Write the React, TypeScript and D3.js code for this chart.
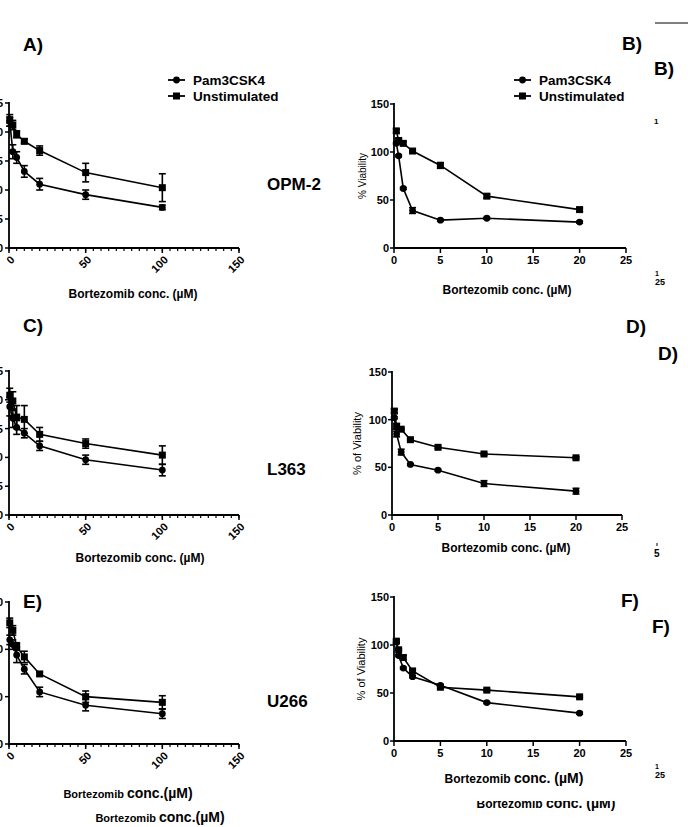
import React from "react";
import * as d3 from "d3";

// ---------- data ----------
const leftConc = [0.5, 2.5, 5, 10, 20, 50, 100];
const rightConc = [0.25, 0.5, 1, 2, 5, 10, 20];
const seriesNames = ["Pam3CSK4", "Unstimulated"];

const aPam = [109, 83, 78, 66, 55, 46, 35];
const aPamErr = [4, 6, 5, 5, 5, 4, 2];
const aUns = [110, 106, 98, 92, 84, 65, 52];
const aUnsErr = [5, 4, 3, 2, 4, 8, 12];

const bPam = [109, 96, 62, 39, 29, 31, 27];
const bPamErr = [1, 1, 1, 3, 1, 1, 1];
const bUns = [122, 112, 109, 101, 86, 54, 40];
const bUnsErr = [2, 2, 2, 1, 3, 2, 2];

const cPam = [94, 84, 76, 71, 60, 48, 39];
const cPamErr = [8, 8, 6, 4, 4, 4, 5];
const cUns = [104, 99, 85, 83, 70, 62, 52];
const cUnsErr = [6, 8, 10, 12, 6, 4, 8];

const dPam = [102, 85, 66, 53, 47, 33, 25];
const dPamErr = [1, 3, 3, 1, 1, 3, 3];
const dUns = [109, 93, 90, 79, 71, 64, 60];
const dUnsErr = [2, 3, 1, 1, 1, 1, 1];

const ePam = [110, 105, 94, 79, 55, 41, 32];
const ePamErr = [5, 5, 8, 5, 5, 6, 5];
const eUns = [128, 120, 103, 92, 74, 50, 44];
const eUnsErr = [5, 5, 4, 6, 2, 6, 7];

const fPam = [103, 89, 76, 67, 58, 40, 29];
const fPamErr = [1, 1, 1, 1, 1, 1, 1];
const fUns = [104, 95, 87, 73, 56, 53, 46];
const fUnsErr = [2, 1, 2, 2, 1, 1, 1];

const leftXTicks = [0, 50, 100, 150];
const rightXTicks = [0, 5, 10, 15, 20, 25];
const yTicks125 = [0, 25, 50, 75, 100, 125];
const yTicks150 = [0, 50, 100, 150];

const FONT = "'Liberation Sans', Arial, Helvetica, sans-serif";

type Series = { vals: number[]; err: number[]; shape: "circle" | "square" };

function Marker({ x, y, shape }: { x: number; y: number; shape: string }) {
  if (shape === "circle") return <circle cx={x} cy={y} r={3.4} fill="#000" />;
  return <rect x={x - 3.5} y={y - 3.5} width={7} height={7} fill="#000" />;
}

function Panel(props: {
  x0: number; x1: number; y0: number; y1: number;
  xMax: number; yMax: number; xs: number[];
  series: Series[]; xTicks: number[]; yTicks: number[];
  side: "left" | "right"; yTitle?: string; yTitleX?: number; yTitleSize?: number;
}) {
  const { x0, x1, y0, y1, xMax, yMax, xs, series, xTicks, yTicks, side } = props;
  const xs_ = d3.scaleLinear().domain([0, xMax]).range([x0, x1]);
  const ys_ = d3.scaleLinear().domain([0, yMax]).range([y0, y1]);
  const line = d3.line<number>().x((_, i) => xs_(xs[i])).y((d) => ys_(d));
  const minor = side === "left" ? d3.range(0, xMax + 0.1, 5) : [];
  return (
    <g>
      <line x1={x0} x2={x0} y1={y1 - 1} y2={y0 + 1} stroke="#000" strokeWidth={1.8} />
      <line x1={x0 - 1} x2={x1} y1={y0} y2={y0} stroke="#000" strokeWidth={1.8} />
      {yTicks.map((t) => (
        <g key={"y" + t}>
          <line x1={x0 - 4} x2={x0} y1={ys_(t)} y2={ys_(t)} stroke="#000" strokeWidth={1.5} />
          <text x={side === "left" ? 3 : x0 - 5} y={ys_(t)} dy="0.36em" textAnchor="end"
            fontFamily={FONT} fontWeight="bold" fontSize={11}>{t}</text>
        </g>
      ))}
      {minor.map((t) => (
        <line key={"m" + t} x1={xs_(t)} x2={xs_(t)} y1={y0} y2={y0 + 3} stroke="#000" strokeWidth={1.2} />
      ))}
      {xTicks.map((t) => (
        <g key={"x" + t}>
          <line x1={xs_(t)} x2={xs_(t)} y1={y0} y2={y0 + 5} stroke="#000" strokeWidth={1.5} />
          {side === "left" ? (
            <text transform={`translate(${xs_(t) + 1},${y0 + 7}) rotate(-45)`} textAnchor="end"
              dy="0.7em" fontFamily={FONT} fontWeight="bold" fontSize={11}>{t}</text>
          ) : (
            <text x={xs_(t)} y={y0 + 16} textAnchor="middle" fontFamily={FONT}
              fontWeight="bold" fontSize={11}>{t}</text>
          )}
        </g>
      ))}
      {props.yTitle && (
        <text transform={`translate(${props.yTitleX},${(y0 + y1) / 2}) rotate(-90)`}
          textAnchor="middle" dy="0.35em" fontFamily={FONT} fontSize={props.yTitleSize || 10}>
          {props.yTitle}
        </text>
      )}
      {series.map((s, si) => (
        <g key={si}>
          <path d={line(s.vals) || ""} fill="none" stroke="#000" strokeWidth={1.6} />
          {s.vals.map((v, i) => {
            const cx = xs_(xs[i]);
            const top = ys_(v + s.err[i]);
            const bot = ys_(v - s.err[i]);
            return (
              <g key={i}>
                <line x1={cx} x2={cx} y1={top} y2={bot} stroke="#000" strokeWidth={1.6} />
                <line x1={cx - 3.5} x2={cx + 3.5} y1={top} y2={top} stroke="#000" strokeWidth={1.6} />
                <line x1={cx - 3.5} x2={cx + 3.5} y1={bot} y2={bot} stroke="#000" strokeWidth={1.6} />
                <Marker x={cx} y={ys_(v)} shape={s.shape} />
              </g>
            );
          })}
        </g>
      ))}
    </g>
  );
}

function Legend({ x, y }: { x: number; y: number }) {
  return (
    <g>
      {seriesNames.map((n, i) => (
        <g key={n}>
          <line x1={x} x2={x + 17} y1={y + i * 16} y2={y + i * 16} stroke="#000" strokeWidth={1.8} />
          <Marker x={x + 8.5} y={y + i * 16} shape={i === 0 ? "circle" : "square"} />
          <text x={x + 25} y={y + i * 16} dy="0.35em" fontFamily={FONT} fontWeight="bold" fontSize={13.5}>{n}</text>
        </g>
      ))}
    </g>
  );
}

function Big({ x, y, size, children }: { x: number; y: number; size: number; children: React.ReactNode }) {
  return <text x={x} y={y} fontFamily={FONT} fontWeight="bold" fontSize={size}>{children}</text>;
}

function XTitle({ cx, y, small, big, sep = " " }: { cx: number; y: number; small: number; big: number; sep?: string }) {
  return (
    <text x={cx} y={y} textAnchor="middle" fontFamily={FONT} fontWeight="bold">
      <tspan fontSize={small}>Bortezomib </tspan>
      <tspan fontSize={big}>{"conc." + sep + "(µM)"}</tspan>
    </text>
  );
}

export default function App() {
  const L = { x0: 9, x1: 239, xMax: 150, xs: leftConc, xTicks: leftXTicks, side: "left" as const };
  const R = { xMax: 25, xs: rightConc, xTicks: rightXTicks, side: "right" as const, yMax: 150, yTicks: yTicks150 };
  return (
    <div style={{ position: "absolute", left: 0, top: 0 }}>
      <svg width={688} height={827} style={{ display: "block", background: "#fff" }}>
        <defs>
          <clipPath id="clipF2"><rect x={400} y={801} width={288} height={26} /></clipPath>
        </defs>
        {/* Panel A */}
        <Panel {...L} y0={248} y1={103} yMax={125} yTicks={yTicks125}
          series={[{ vals: aPam, err: aPamErr, shape: "circle" }, { vals: aUns, err: aUnsErr, shape: "square" }]} />
        <Legend x={168} y={80} />
        <Big x={23} y={51} size={19}>A)</Big>
        <Big x={267} y={190} size={17}>OPM-2</Big>
        <XTitle cx={133} y={298} small={12} big={12} />

        {/* Panel B */}
        <Panel {...R} x0={394} x1={626} y0={248} y1={104} yTitle="% Viability" yTitleX={362} yTitleSize={10}
          series={[{ vals: bPam, err: bPamErr, shape: "circle" }, { vals: bUns, err: bUnsErr, shape: "square" }]} />
        <Legend x={514} y={80} />
        <Big x={622} y={50} size={19}>B)</Big>
        <Big x={654} y={75} size={19}>B)</Big>
        <line x1={655} x2={688} y1={23} y2={23} stroke="#000" strokeWidth={1} />
        <text x={654} y={124} fontFamily={FONT} fontWeight="bold" fontSize={8}>1</text>
        <text x={655} y={276} fontFamily={FONT} fontWeight="bold" fontSize={7}>1</text>
        <text x={655} y={285} fontFamily={FONT} fontWeight="bold" fontSize={9}>25</text>
        <XTitle cx={507} y={294} small={12} big={12} />

        {/* Panel C */}
        <Panel {...L} y0={515} y1={371} yMax={125} yTicks={yTicks125}
          series={[{ vals: cPam, err: cPamErr, shape: "circle" }, { vals: cUns, err: cUnsErr, shape: "square" }]} />
        <Big x={23} y={332} size={19}>C)</Big>
        <Big x={267} y={475} size={17}>L363</Big>
        <XTitle cx={140} y={562} small={12} big={12} />

        {/* Panel D */}
        <Panel {...R} x0={392} x1={622} y0={515} y1={372} yTitle="% of Viability" yTitleX={357} yTitleSize={11}
          series={[{ vals: dPam, err: dPamErr, shape: "circle" }, { vals: dUns, err: dUnsErr, shape: "square" }]} />
        <Big x={626} y={333} size={19}>D)</Big>
        <Big x={658} y={360} size={19}>D)</Big>
        <line x1={657} x2={657} y1={543} y2={546} stroke="#000" strokeWidth={1} />
        <text x={654} y={557} fontFamily={FONT} fontWeight="bold" fontSize={10}>5</text>
        <XTitle cx={506} y={552} small={12} big={12} />

        {/* Panel E */}
        <Panel {...L} y0={744} y1={602} yMax={150} yTicks={yTicks150}
          series={[{ vals: ePam, err: ePamErr, shape: "circle" }, { vals: eUns, err: eUnsErr, shape: "square" }]} />
        <Big x={23} y={608} size={19}>E)</Big>
        <Big x={267} y={707} size={17}>U266</Big>
        <XTitle cx={128} y={798} small={11} big={14} sep="" />
        <XTitle cx={160} y={822} small={11} big={14} sep="" />

        {/* Panel F */}
        <Panel {...R} x0={394} x1={626} y0={741} y1={597} yTitle="% of Viability" yTitleX={361} yTitleSize={11}
          series={[{ vals: fPam, err: fPamErr, shape: "circle" }, { vals: fUns, err: fUnsErr, shape: "square" }]} />
        <Big x={621} y={607} size={19}>F)</Big>
        <Big x={652} y={633} size={19}>F)</Big>
        <text x={655} y={769} fontFamily={FONT} fontWeight="bold" fontSize={7}>1</text>
        <text x={655} y={778} fontFamily={FONT} fontWeight="bold" fontSize={9}>25</text>
        <XTitle cx={514} y={783} small={12} big={14} />
        <g clipPath="url(#clipF2)">
          <XTitle cx={546} y={808} small={12} big={14} />
        </g>
      </svg>
    </div>
  );
}
